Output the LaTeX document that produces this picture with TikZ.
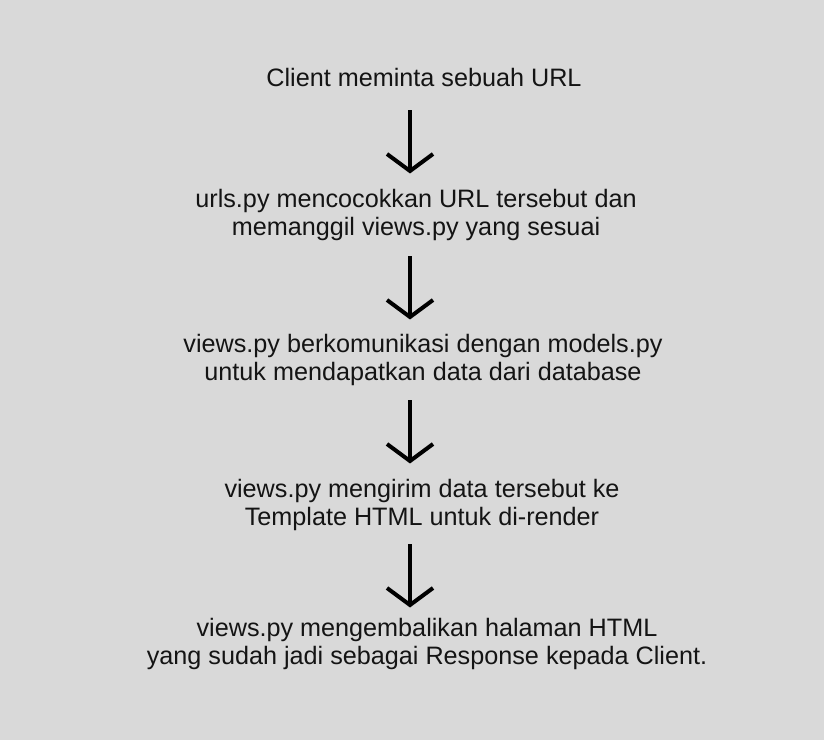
\documentclass[tikz,border=0pt]{standalone}
\usepackage{fontspec}
\setmainfont{Liberation Sans}
\begin{document}
\begin{tikzpicture}[x=0.75pt,y=-0.75pt,
  steptext/.style={align=center, inner sep=0pt, text=black!92,
    font=\fontsize{18.9pt}{21.3pt}\selectfont},
  flowarrow/.style={draw=black, line width=3pt},
  headline/.style={draw=black, line width=3pt, line cap=butt, line join=miter}]
\fill[fill={rgb,255:red,217;green,217;blue,217}] (0,0) rectangle (824,740);
\useasboundingbox (0,0) rectangle (824,740);

\node[steptext] (s1) at (424,77) {Client meminta sebuah URL};
\node[steptext] (s2) at (416,215) {urls.py mencocokkan URL tersebut dan\\ memanggil views.py yang sesuai};
\node[steptext] (s3) at (423,360) {views.py berkomunikasi dengan models.py\\ untuk mendapatkan data dari database};
\node[steptext] (s4) at (422,505) {views.py mengirim data tersebut ke\\ Template HTML untuk di-render};
\node[steptext] (s5) at (427,644) {views.py mengembalikan halaman HTML\\yang sudah jadi sebagai Response kepada Client.};

\foreach \i/\top in {1/110,2/256,3/400,4/544}{
  \coordinate (a\i t) at (410,\top);
  \coordinate (a\i b) at (410,\top+61);
  \coordinate (a\i l) at (387,\top+44);
  \coordinate (a\i r) at (433,\top+44);
  \draw[flowarrow] (a\i t) -- (a\i b);
  \draw[headline] (a\i l) -- (a\i b) -- (a\i r);
}
\end{tikzpicture}
\end{document}
